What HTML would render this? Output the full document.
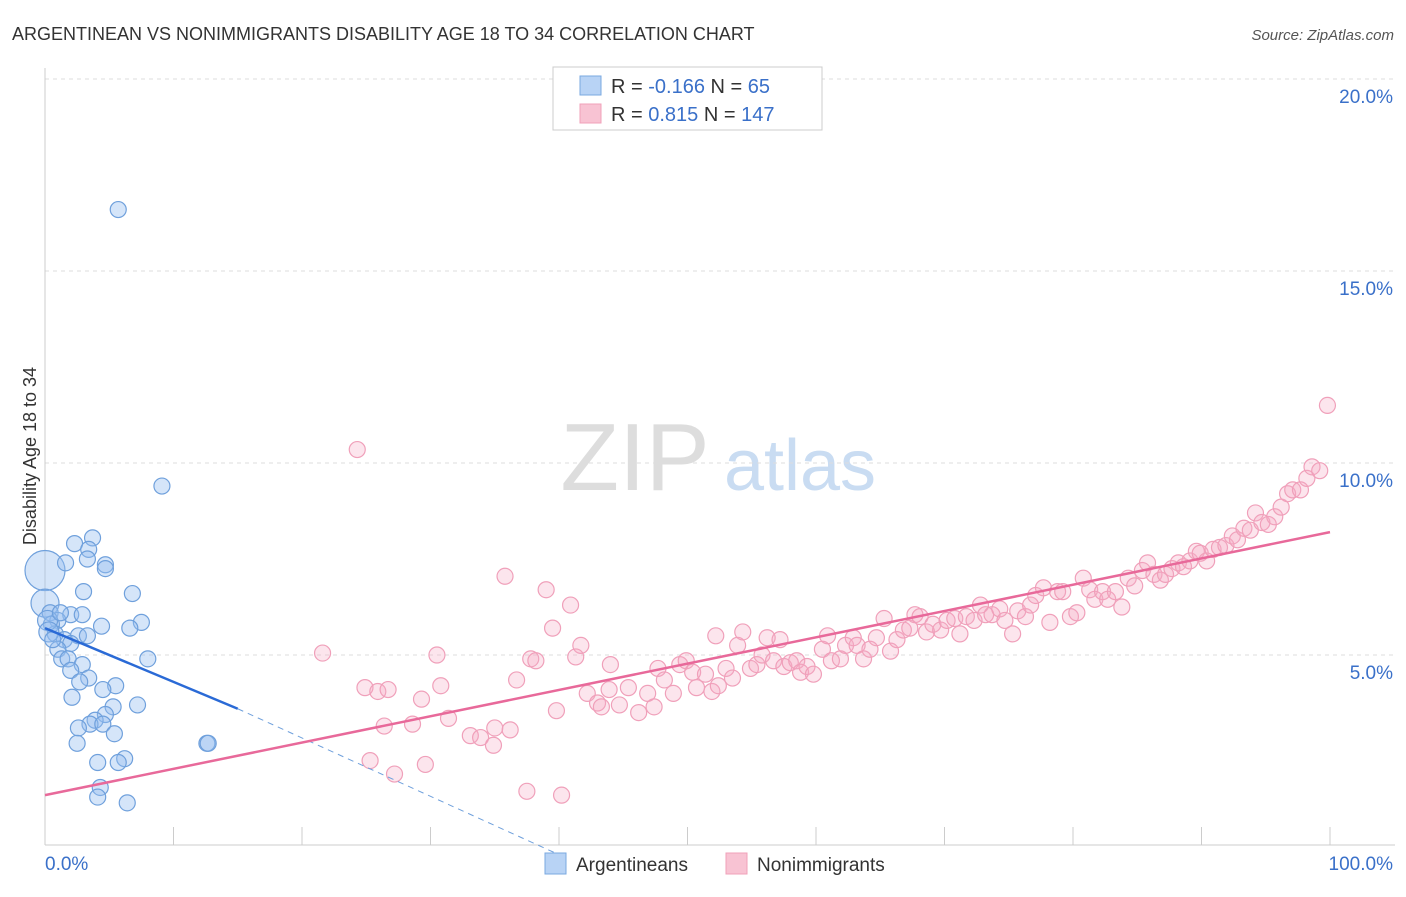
<!DOCTYPE html>
<html><head><meta charset="utf-8"><style>
body{margin:0;background:#fff;font-family:"Liberation Sans",sans-serif;}
svg text{font-family:"Liberation Sans",sans-serif;}
</style></head><body>
<svg id="chart" width="1406" height="892">
<text x="12" y="40" font-size="18" fill="#333">ARGENTINEAN VS NONIMMIGRANTS DISABILITY AGE 18 TO 34 CORRELATION CHART</text>
<text x="1394" y="40" font-size="15" fill="#555" text-anchor="end" font-style="italic">Source: ZipAtlas.com</text>
<text x="36" y="456" font-size="18" fill="#333" text-anchor="middle" transform="rotate(-90 36 456)">Disability Age 18 to 34</text>
<text x="635" y="490" font-size="96" fill="#ddd" text-anchor="middle" font-family="Liberation Serif">ZIP</text>
<text x="800" y="490" font-size="72" fill="#c9dcf2" text-anchor="middle">atlas</text>
<g id="grid"></g><g id="marks"></g>
<g>
<rect x="553" y="67" width="269" height="63" fill="#fff" stroke="#ccc"/>
<rect x="580" y="76" width="21" height="19" fill="#b8d3f5" stroke="#7aa8e0"/>
<rect x="580" y="104" width="21" height="19" fill="#f8c3d3" stroke="#f0a0ba"/>
<text x="611" y="93" font-size="20" fill="#333">R = <tspan fill="#3a70c9">-0.166</tspan>   N = <tspan fill="#3a70c9"> 65</tspan></text>
<text x="611" y="121" font-size="20" fill="#333">R = <tspan fill="#3a70c9"> 0.815</tspan>   N = <tspan fill="#3a70c9">147</tspan></text>
</g>
<g>
<rect x="545" y="853" width="21" height="21" fill="#b8d3f5" stroke="#7aa8e0"/>
<text x="576" y="871" font-size="19" fill="#333">Argentineans</text>
<rect x="726" y="853" width="21" height="21" fill="#f8c3d3" stroke="#f0a0ba"/>
<text x="757" y="871" font-size="19" fill="#333">Nonimmigrants</text>
</g>
</svg>
<script>
const yTicks=[5,10,15,20];
const xTickLabels=["0.0%","100.0%"];
const blueX=[5.7,9.1,0,0,3.7,2.3,3.4,1.6,3.3,4.7,4.7,3.0,6.8,0.4,2.0,2.9,1.0,7.5,4.4,6.6,0.5,0.8,2.6,3.3,1.5,2.0,1.0,1.3,1.8,8.0,2.9,2.0,3.4,2.7,5.5,4.5,2.1,5.3,7.2,4.7,3.9,3.5,4.5,2.6,5.4,2.5,12.6,12.7,4.1,6.2,5.7,4.3,4.1,6.4,0.2,0.3,0.6,1.2];
const blueY=[16.6,9.4,7.2,6.35,8.05,7.9,7.75,7.4,7.5,7.35,7.25,6.65,6.6,6.1,6.05,6.05,5.9,5.85,5.75,5.7,5.8,5.55,5.5,5.5,5.4,5.3,5.15,4.9,4.9,4.9,4.75,4.6,4.4,4.3,4.2,4.1,3.9,3.65,3.7,3.45,3.3,3.2,3.2,3.1,2.95,2.7,2.7,2.7,2.2,2.3,2.2,1.55,1.3,1.15,5.9,5.6,5.4,6.1];
const blueR=[8,8,20,14,8,8,8,8,8,8,8,8,8,8,8,8,8,8,8,8,8,8,8,8,8,8,8,8,8,8,8,8,8,8,8,8,8,8,8,8,8,8,8,8,8,8,8,8,8,8,8,8,8,8,10,10,8,8];
const pinkX=[24.3,35.8,39.0,40.9,39.5,41.7,41.3,37.8,38.2,30.5,21.6,36.7,30.8,24.9,25.9,26.7,29.3,31.4,26.4,28.6,39.8,35.0,36.2,33.1,33.9,34.9,25.3,27.2,29.6,37.5,40.2,42.2,43.0,43.3,43.9,44.7,45.4,46.2,46.9,47.4,47.7,48.2,48.9,49.4,49.9,50.4,50.7,51.4,51.9,52.2,52.4,53.0,53.5,53.9,54.3,54.9,55.4,55.8,56.2,56.7,57.2,57.5,58.0,58.5,58.8,59.3,59.8,60.5,60.9,61.2,61.9,62.3,62.9,63.2,63.7,64.2,64.7,65.3,65.8,66.3,66.8,67.3,67.7,68.1,68.6,69.1,69.7,70.2,70.8,71.2,71.7,72.3,72.8,73.2,73.7,74.3,74.7,75.3,75.7,76.3,76.7,77.1,77.7,78.2,78.8,79.2,79.8,80.3,80.8,81.3,81.7,82.3,82.7,83.3,83.8,84.3,84.8,85.4,85.8,86.3,86.8,87.2,87.7,88.2,88.6,89.1,89.6,89.9,90.4,90.9,91.4,91.9,92.4,92.8,93.3,93.8,94.2,94.7,95.2,95.7,96.2,96.7,97.1,97.7,98.2,98.6,99.2,99.8,44.0];
const pinkY=[10.35,7.05,6.7,6.3,5.7,5.25,4.95,4.9,4.85,5.0,5.05,4.35,4.2,4.15,4.05,4.1,3.85,3.35,3.15,3.2,3.55,3.1,3.05,2.9,2.85,2.65,2.25,1.9,2.15,1.45,1.35,4.0,3.75,3.65,4.1,3.7,4.15,3.5,4.0,3.65,4.65,4.35,4.0,4.75,4.85,4.55,4.15,4.5,4.05,5.5,4.2,4.65,4.4,5.25,5.6,4.65,4.75,5.0,5.45,4.85,5.4,4.7,4.8,4.85,4.55,4.7,4.5,5.15,5.5,4.85,4.9,5.25,5.45,5.25,4.9,5.15,5.45,5.95,5.1,5.4,5.65,5.7,6.05,6.0,5.6,5.8,5.65,5.9,5.95,5.55,6.0,5.9,6.3,6.05,6.05,6.2,5.9,5.55,6.15,6.0,6.3,6.55,6.75,5.85,6.65,6.65,6.0,6.1,7.0,6.7,6.45,6.65,6.45,6.65,6.25,7.0,6.8,7.2,7.4,7.1,6.95,7.1,7.25,7.4,7.3,7.45,7.7,7.65,7.45,7.75,7.8,7.85,8.1,8.0,8.3,8.25,8.7,8.45,8.4,8.6,8.85,9.2,9.3,9.3,9.6,9.9,9.8,11.5,4.75];
const blueTrend=[0,5.7,15,3.6,40,-0.2];
const pinkTrend=[0,1.35,100,8.2];
const X0=45,X1=1330,Y0=847,PY=38.4;
const sx=v=>X0+(X1-X0)*v/100, sy=v=>Y0-v*PY;
const NS="http://www.w3.org/2000/svg";
function mk(p,t,a){const e=document.createElementNS(NS,t);for(const k in a)e.setAttribute(k,a[k]);p.appendChild(e);return e;}
const grid=document.getElementById('grid'),marks=document.getElementById('marks');
yTicks.forEach(v=>{
 const l=mk(grid,'line',{x1:45,x2:1395,y1:sy(v),y2:sy(v),stroke:'#ddd','stroke-dasharray':'4,4'});
 
 
 const t=mk(grid,'text',{x:1393,y:sy(v)+24,'font-size':19,fill:'#3a70c9','text-anchor':'end'});t.textContent=v.toFixed(1)+'%';
 
 
});
mk(grid,'line',{x1:45,x2:45,y1:68,y2:845,stroke:'#ccc'});
mk(grid,'line',{x1:45,x2:1395,y1:845,y2:845,stroke:'#ccc'});
for(let i=0;i<=10;i++){const x=sx(i*10);const l=mk(grid,'line',{x1:x,x2:x,y1:827,y2:845,stroke:'#ccc'});
 
 }
[[0,'start',45],[1,'end',1393]].forEach(([i,a,x])=>{const t=mk(grid,'text',{x:x,y:870,'font-size':19,fill:'#3a70c9','text-anchor':a});t.textContent=xTickLabels[i];
 
 });
blueX.forEach((v,i)=>{const c=mk(marks,'circle',{cx:sx(v),cy:sy(blueY[i]),r:blueR[i],fill:'rgba(150,190,240,0.4)',stroke:'#6fa0dc','stroke-width':1.2});
 
 });
pinkX.forEach((v,i)=>{const c=mk(marks,'circle',{cx:sx(v),cy:sy(pinkY[i]),r:8,fill:'rgba(245,170,195,0.3)',stroke:'#f0a0ba','stroke-width':1.2});
 
 });
const b1=mk(marks,'line',{x1:sx(blueTrend[0]),y1:sy(blueTrend[1]),x2:sx(blueTrend[2]),y2:sy(blueTrend[3]),stroke:'#2a6ad6','stroke-width':2.5});


const b2=mk(marks,'line',{x1:sx(blueTrend[2]),y1:sy(blueTrend[3]),x2:sx(blueTrend[4]),y2:sy(blueTrend[5]),stroke:'#6fa0dc','stroke-width':1,'stroke-dasharray':'6,5'});


const p1=mk(marks,'line',{x1:sx(pinkTrend[0]),y1:sy(pinkTrend[1]),x2:sx(pinkTrend[2]),y2:sy(pinkTrend[3]),stroke:'#e8699a','stroke-width':2.5});


</script>
</body></html>
